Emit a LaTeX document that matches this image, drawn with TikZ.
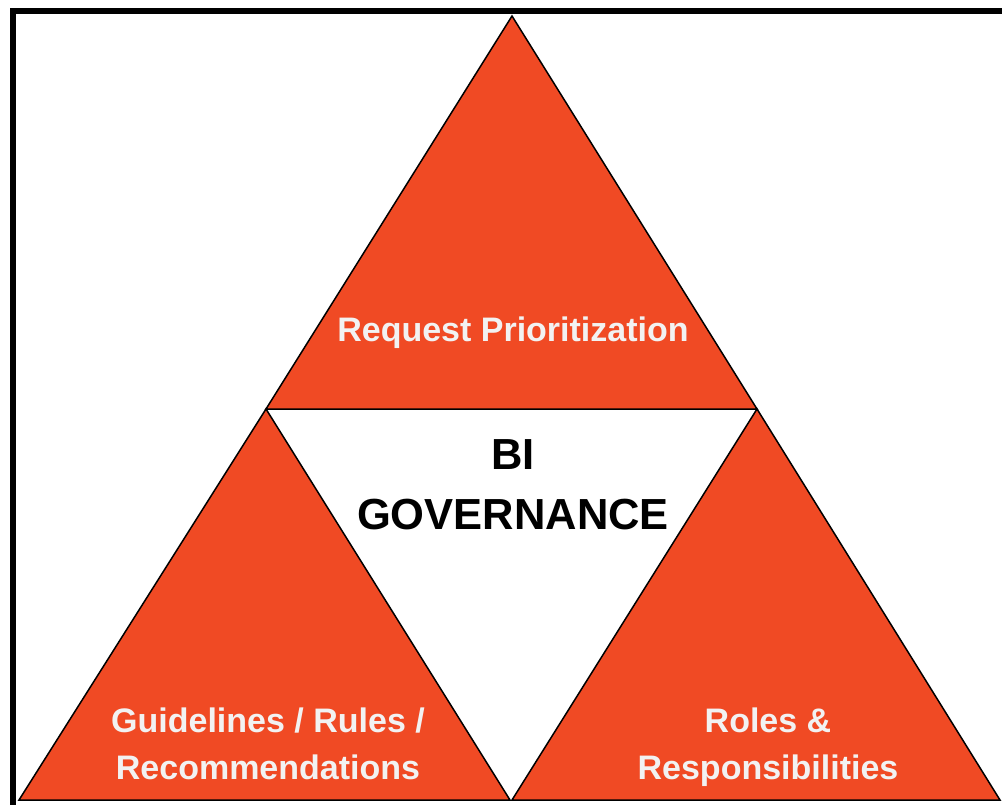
\documentclass[tikz,border=0pt]{standalone}
\usepackage{fontspec}
\setmainfont{Liberation Sans}
\begin{document}
\begin{tikzpicture}[x=1pt,y=-1pt]
  % colors
  \definecolor{kOrange}{rgb}{0.94,0.29,0.14}
  \definecolor{kWhite}{rgb}{0.95,0.95,0.95}
  \tikzset{tri/.style={draw=black,line width=1.5pt,fill=kOrange,line join=miter},
    lbl/.style={text=kWhite,font=\bfseries\fontsize{34}{47}\selectfont,align=center}}
  \useasboundingbox (0,0) rectangle (1002,805);
  % frame
  \draw[line width=6pt] (13,805) -- (13,11) -- (1002,11);
  % corners
  \coordinate (tA) at (512,16);
  \coordinate (tL) at (266,409);
  \coordinate (tR) at (757,409);
  \coordinate (lL) at (19,800);
  \coordinate (lR) at (510,800);
  \coordinate (rL) at (512,800);
  \coordinate (rR) at (1000,800);
  % triangles
  \draw[tri] (tA) -- (tR) -- (tL) -- cycle;
  \draw[tri] (tL) -- (lR) -- (lL) -- cycle;
  \draw[tri] (tR) -- (rR) -- (rL) -- cycle;
  % texts
  \node[lbl] (req) at (513,333) {Request Prioritization};
  \node[lbl] (gui) at (268,744) {Guidelines / Rules /\\Recommendations};
  \node[lbl] (rol) at (768,747) {Roles \&\\Responsibilities};
  \node[font=\bfseries\fontsize{43.5}{60}\selectfont,align=center] (bi) at (513,485) {BI\\GOVERNANCE};
\end{tikzpicture}
\end{document}
